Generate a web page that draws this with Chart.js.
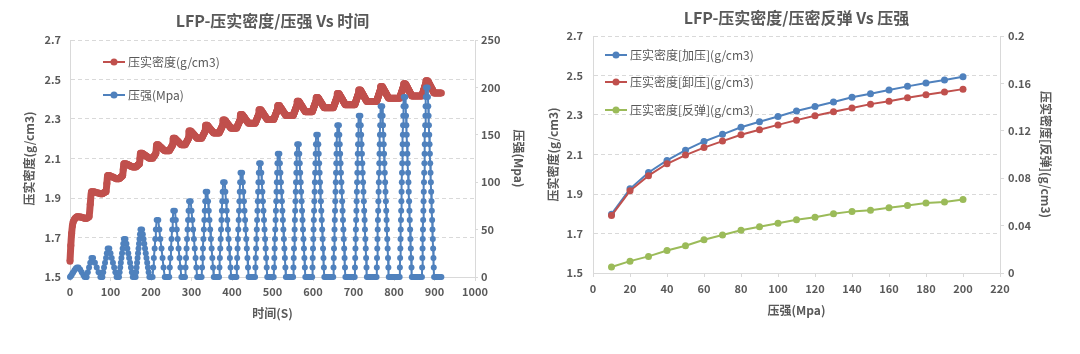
<!DOCTYPE html>
<html><head><meta charset="utf-8">
<script src="https://cdn.jsdelivr.net/npm/chart.js@4.4.1/dist/chart.umd.min.js"></script>
<style>
html,body{margin:0;padding:0;background:#fff;width:1080px;height:354px;overflow:hidden;}
#wrapL{position:absolute;left:0;top:0;width:540px;height:354px;}
#wrapR{position:absolute;left:540px;top:0;width:540px;height:354px;}
</style></head><body>
<div id="wrapL"><canvas id="cL" width="540" height="354"></canvas></div>
<div id="wrapR"><canvas id="cR" width="540" height="354"></canvas></div>
<script>
// ================= LEFT CHART DATA (time series, one line per press cycle) =================
const timeS = [
0,2,4,6,8,11,14,17,21,25,29,33,36,40,
41,44,47,50,53,57,61.5,66,70.5,75,78.5,
80,82,84,86.5,89,91,93,97,100,103,106,109,112,115,118.5,
121,122.5,124,125.5,127,128.5,130,131.5,133,137,139.3,141.5,143.8,146,148.3,150.5,152.8,155,158.5,
162,163.2,164.4,165.6,166.8,168,169.2,170.4,171.6,172.8,174,178,179.8,181.6,183.4,185.2,187,188.8,190.6,192.4,194.2,196,199,
204,205.5,207,209,210.5,212,214,218,220.5,223,226,228.5,231,234,236.5,239.5,242.5,
245,246.4,247.9,249.3,250.7,252.1,253.6,255,259,261.3,263.6,265.9,268.1,270.4,272.7,275,277.5,280,282,
284,285.3,286.5,287.8,289,290.3,291.5,292.8,294,298,300,302,304,306,308,310,312,314,316.5,319.5,322.5,
325,326.1,327.2,328.3,329.4,330.6,331.7,332.8,333.9,335,339,340.8,342.6,344.3,346.1,347.9,349.7,351.4,353.2,355,358,361.5,365,
368,369,370,371,372,373,374,375,376,377,378,382,383.6,385.2,386.8,388.4,390,391.6,393.2,394.8,396.4,398,401,404.5,408,
411,411.9,412.8,413.7,414.6,415.5,416.5,417.4,418.3,419.2,420.1,421,425,426.5,427.9,429.4,430.8,432.3,433.7,435.2,436.6,438.1,439.5,441,444,447,450,453.5,
457,457.8,458.7,459.5,460.3,461.2,462,462.8,463.7,464.5,465.3,466.2,467,471,472.3,473.7,475,476.3,477.7,479,480.3,481.7,483,484.3,485.7,487,490,493,496,499.5,
503,503.8,504.5,505.3,506.1,506.8,507.6,508.4,509.2,509.9,510.7,511.5,512.2,513,517,518.2,519.5,520.7,521.9,523.2,524.4,525.6,526.8,528.1,529.3,530.5,531.8,533,536,539,542,545,548,
551,551.7,552.4,553.1,553.9,554.6,555.3,556,556.7,557.4,558.1,558.9,559.6,560.3,561,565,566.1,567.3,568.4,569.6,570.7,571.9,573,574.1,575.3,576.4,577.6,578.7,579.9,581,584,587,590,593,595.5,
598,598.7,599.3,600,600.7,601.3,602,602.7,603.3,604,604.7,605.3,606,606.7,607.3,608,612,613.1,614.1,615.2,616.3,617.3,618.4,619.5,620.5,621.6,622.7,623.7,624.8,625.9,626.9,628,631,634,637,640,643,646.5,
650,650.6,651.3,651.9,652.5,653.1,653.8,654.4,655,655.6,656.3,656.9,657.5,658.1,658.8,659.4,660,664,665,666,667,668,669,670,671,672,673,674,675,676,677,678,679,680,683,686,689,692,695,698,700.5,
703,703.6,704.2,704.8,705.4,705.9,706.5,707.1,707.7,708.3,708.9,709.5,710.1,710.6,711.2,711.8,712.4,713,717,717.9,718.9,719.8,720.8,721.7,722.6,723.6,724.5,725.5,726.4,727.4,728.3,729.2,730.2,731.1,732.1,733,736,739,742,745,748,751,754,
757,757.6,758.1,758.7,759.2,759.8,760.3,760.9,761.4,762,762.6,763.1,763.7,764.2,764.8,765.3,765.9,766.4,767,771,771.9,772.8,773.7,774.6,775.4,776.3,777.2,778.1,779,779.9,780.8,781.7,782.6,783.4,784.3,785.2,786.1,787,790,793,796,799,802,805,808,811,
814,814.5,815.1,815.6,816.1,816.6,817.2,817.7,818.2,818.7,819.3,819.8,820.3,820.8,821.4,821.9,822.4,822.9,823.5,824,828,828.8,829.7,830.5,831.4,832.2,833.1,833.9,834.7,835.6,836.4,837.3,838.1,838.9,839.8,840.6,841.5,842.3,843.2,844,847,850,853,856,859,862,865.5,
869,869.5,870,870.5,871,871.5,872,872.5,873,873.5,874,874.5,875,875.5,876,876.5,877,877.5,878,878.5,879,883,883.8,884.6,885.4,886.2,887,887.8,888.6,889.4,890.2,891,891.8,892.6,893.4,894.2,895,895.8,896.6,897.4,898.2,899,902,905,908,911,914,917
];
const pressureMpa = [
0,1,2,4,5,7,9,10,10,8,5,2,0,0,
0,5,10,15,20,20,15,10,5,0,0,
0,5,10,15,20,25,30,30,25,20,15,10,5,0,0,
0,5,10,15,20,25,30,35,40,40,35,30,25,20,15,10,5,0,0,
0,5,10,15,20,25,30,35,40,45,50,50,45,40,35,30,25,20,15,10,5,0,0,
0,10,20,30,40,50,60,60,50,40,30,20,10,0,0,0,0,
0,10,20,30,40,50,60,70,70,60,50,40,30,20,10,0,0,0,0,
0,10,20,30,40,50,60,70,80,80,70,60,50,40,30,20,10,0,0,0,0,
0,10,20,30,40,50,60,70,80,90,90,80,70,60,50,40,30,20,10,0,0,0,0,
0,10,20,30,40,50,60,70,80,90,100,100,90,80,70,60,50,40,30,20,10,0,0,0,0,
0,10,20,30,40,50,60,70,80,90,100,110,110,100,90,80,70,60,50,40,30,20,10,0,0,0,0,0,
0,10,20,30,40,50,60,70,80,90,100,110,120,120,110,100,90,80,70,60,50,40,30,20,10,0,0,0,0,0,
0,10,20,30,40,50,60,70,80,90,100,110,120,130,130,120,110,100,90,80,70,60,50,40,30,20,10,0,0,0,0,0,0,
0,10,20,30,40,50,60,70,80,90,100,110,120,130,140,140,130,120,110,100,90,80,70,60,50,40,30,20,10,0,0,0,0,0,0,
0,10,20,30,40,50,60,70,80,90,100,110,120,130,140,150,150,140,130,120,110,100,90,80,70,60,50,40,30,20,10,0,0,0,0,0,0,0,
0,10,20,30,40,50,60,70,80,90,100,110,120,130,140,150,160,160,150,140,130,120,110,100,90,80,70,60,50,40,30,20,10,0,0,0,0,0,0,0,0,
0,10,20,30,40,50,60,70,80,90,100,110,120,130,140,150,160,170,170,160,150,140,130,120,110,100,90,80,70,60,50,40,30,20,10,0,0,0,0,0,0,0,0,
0,10,20,30,40,50,60,70,80,90,100,110,120,130,140,150,160,170,180,180,170,160,150,140,130,120,110,100,90,80,70,60,50,40,30,20,10,0,0,0,0,0,0,0,0,0,
0,10,20,30,40,50,60,70,80,90,100,110,120,130,140,150,160,170,180,190,190,180,170,160,150,140,130,120,110,100,90,80,70,60,50,40,30,20,10,0,0,0,0,0,0,0,0,
0,10,20,30,40,50,60,70,80,90,100,110,120,130,140,150,160,170,180,190,200,200,190,180,170,160,150,140,130,120,110,100,90,80,70,60,50,40,30,20,10,0,0,0,0,0,0,0
];
const densityG = [
1.580,1.660,1.720,1.760,1.780,1.792,1.800,1.805,1.805,1.804,1.802,1.800,1.798,1.798,
1.798,1.801,1.805,1.868,1.932,1.932,1.930,1.927,1.925,1.922,1.922,
1.922,1.925,1.927,1.930,1.932,1.973,2.014,2.014,2.011,2.008,2.006,2.003,2.000,1.997,1.997,
1.997,2.000,2.003,2.006,2.008,2.011,2.014,2.044,2.074,2.074,2.072,2.070,2.068,2.066,2.063,2.061,2.059,2.057,2.057,
2.057,2.059,2.061,2.063,2.066,2.068,2.070,2.072,2.074,2.100,2.126,2.126,2.124,2.121,2.119,2.116,2.114,2.111,2.109,2.106,2.104,2.101,2.101,
2.101,2.106,2.111,2.116,2.121,2.126,2.169,2.169,2.164,2.159,2.154,2.149,2.144,2.139,2.139,2.139,2.139,
2.139,2.144,2.149,2.154,2.159,2.164,2.169,2.203,2.203,2.198,2.193,2.188,2.184,2.179,2.174,2.169,2.169,2.169,2.169,
2.169,2.174,2.179,2.184,2.188,2.193,2.198,2.203,2.239,2.239,2.235,2.230,2.226,2.221,2.217,2.212,2.208,2.203,2.203,2.203,2.203,
2.203,2.208,2.212,2.217,2.221,2.226,2.230,2.235,2.239,2.268,2.268,2.264,2.259,2.255,2.251,2.246,2.242,2.238,2.233,2.229,2.229,2.229,2.229,
2.229,2.233,2.238,2.242,2.246,2.251,2.255,2.259,2.264,2.268,2.295,2.295,2.291,2.287,2.282,2.278,2.274,2.270,2.266,2.261,2.257,2.253,2.253,2.253,2.253,
2.253,2.257,2.261,2.266,2.270,2.274,2.278,2.282,2.287,2.291,2.295,2.323,2.323,2.319,2.315,2.311,2.307,2.303,2.298,2.294,2.290,2.286,2.282,2.278,2.278,2.278,2.278,2.278,
2.278,2.282,2.286,2.290,2.294,2.298,2.303,2.307,2.311,2.315,2.319,2.323,2.347,2.347,2.343,2.339,2.335,2.331,2.327,2.323,2.318,2.314,2.310,2.306,2.302,2.298,2.298,2.298,2.298,2.298,
2.298,2.302,2.306,2.310,2.314,2.318,2.323,2.327,2.331,2.335,2.339,2.343,2.347,2.368,2.368,2.364,2.360,2.356,2.353,2.349,2.345,2.341,2.337,2.333,2.330,2.326,2.322,2.318,2.318,2.318,2.318,2.318,2.318,
2.318,2.322,2.326,2.330,2.333,2.337,2.341,2.345,2.349,2.353,2.356,2.360,2.364,2.368,2.390,2.390,2.386,2.382,2.379,2.375,2.371,2.367,2.364,2.360,2.356,2.352,2.348,2.345,2.341,2.337,2.337,2.337,2.337,2.337,2.337,
2.337,2.341,2.345,2.348,2.352,2.356,2.360,2.364,2.367,2.371,2.375,2.379,2.382,2.386,2.390,2.409,2.409,2.406,2.402,2.399,2.395,2.392,2.388,2.385,2.381,2.378,2.374,2.371,2.367,2.364,2.360,2.357,2.357,2.357,2.357,2.357,2.357,2.357,
2.357,2.360,2.364,2.367,2.371,2.374,2.378,2.381,2.385,2.388,2.392,2.395,2.399,2.402,2.406,2.409,2.429,2.429,2.425,2.422,2.418,2.415,2.411,2.408,2.404,2.401,2.397,2.393,2.390,2.386,2.383,2.379,2.376,2.372,2.372,2.372,2.372,2.372,2.372,2.372,2.372,
2.372,2.376,2.379,2.383,2.386,2.390,2.393,2.397,2.401,2.404,2.408,2.411,2.415,2.418,2.422,2.425,2.429,2.447,2.447,2.444,2.440,2.437,2.433,2.430,2.427,2.423,2.420,2.416,2.413,2.409,2.406,2.403,2.399,2.396,2.392,2.389,2.389,2.389,2.389,2.389,2.389,2.389,2.389,
2.389,2.392,2.396,2.399,2.403,2.406,2.409,2.413,2.416,2.420,2.423,2.427,2.430,2.433,2.437,2.440,2.444,2.447,2.464,2.464,2.461,2.457,2.454,2.451,2.448,2.444,2.441,2.438,2.435,2.431,2.428,2.425,2.421,2.418,2.415,2.412,2.408,2.405,2.405,2.405,2.405,2.405,2.405,2.405,2.405,2.405,
2.405,2.408,2.412,2.415,2.418,2.421,2.425,2.428,2.431,2.435,2.438,2.441,2.444,2.448,2.451,2.454,2.457,2.461,2.464,2.479,2.479,2.476,2.472,2.469,2.466,2.463,2.459,2.456,2.453,2.450,2.446,2.443,2.440,2.437,2.433,2.430,2.427,2.424,2.420,2.417,2.417,2.417,2.417,2.417,2.417,2.417,2.417,
2.417,2.420,2.424,2.427,2.430,2.433,2.437,2.440,2.443,2.446,2.450,2.453,2.456,2.459,2.463,2.466,2.469,2.472,2.476,2.479,2.494,2.494,2.491,2.488,2.485,2.482,2.479,2.475,2.472,2.469,2.466,2.463,2.460,2.457,2.454,2.451,2.448,2.444,2.441,2.438,2.435,2.432,2.432,2.432,2.432,2.432,2.432,2.432
];
const leftXRange = [0, 1000, 100];
const leftYRange = [1.5, 2.7, 0.2];
const leftY1Range = [0, 250, 50];

// ================= RIGHT CHART DATA =================
const pressureSteps  = [10,20,30,40,50,60,70,80,90,100,110,120,130,140,150,160,170,180,190,200];
const densityLoad    = [1.798,1.926,2.009,2.070,2.122,2.166,2.202,2.238,2.266,2.292,2.320,2.343,2.366,2.390,2.408,2.427,2.445,2.462,2.477,2.494];
const densityUnload  = [1.791,1.916,1.993,2.053,2.097,2.135,2.168,2.200,2.225,2.250,2.274,2.296,2.316,2.335,2.355,2.370,2.387,2.403,2.416,2.431];
const densityRebound = [0.005,0.010,0.014,0.019,0.023,0.028,0.032,0.036,0.039,0.042,0.045,0.047,0.050,0.052,0.053,0.055,0.057,0.059,0.060,0.062];
const rightXRange = [0, 220, 20];
const rightYRange = [1.5, 2.7, 0.2];
const rightY2Range = [0, 0.2, 0.04];

// ================= STYLE =================
const FONT = "'Noto Sans CJK SC','Noto Sans',sans-serif";
const GRAY = '#595959', LINE = '#D9D9D9';
const BLUE = '#4F81BD', RED = '#C0504D', GREEN = '#9BBB59';
Chart.defaults.font.family = FONT;
Chart.defaults.color = GRAY;

const fmt = v => String(parseFloat(Number(v).toFixed(3)));
const tickFont = {size: 11, weight: 'bold'};
const titleFont = {size: 12, weight: 'bold'};

const lineLegend = {
  id: 'lineLegend',
  afterDraw(chart, args, o) {
    const ctx = chart.ctx;
    ctx.save();
    o.y.forEach((y, i) => {
      const ds = chart.data.datasets[i];
      ctx.strokeStyle = ds.borderColor; ctx.lineWidth = 2;
      ctx.beginPath(); ctx.moveTo(o.x, y); ctx.lineTo(o.x + o.len, y); ctx.stroke();
      ctx.fillStyle = ds.borderColor;
      ctx.beginPath(); ctx.arc(o.x + o.len / 2, y, 3.5, 0, Math.PI * 2); ctx.fill();
      ctx.fillStyle = GRAY; ctx.font = '12px ' + FONT;
      ctx.textBaseline = 'middle'; ctx.textAlign = 'left';
      ctx.fillText(ds.label, o.x + o.len + 3, y + 0.5);
    });
    ctx.restore();
  }
};

function series(xs, ys) {
  const n = Math.min(xs.length, ys.length);
  const out = [];
  for (let i = 0; i < n; i++) out.push({x: xs[i], y: ys[i]});
  return out;
}
function ds(label, data, color, axis, r, order, lw) {
  return {label, data, yAxisID: axis, borderColor: color, backgroundColor: color,
    pointBackgroundColor: color, pointBorderColor: color, pointBorderWidth: 0,
    pointRadius: r, pointHoverRadius: r, borderWidth: lw || 2, tension: 0, order, clip: false};
}

// ================= LEFT CHART =================
const redDs = ds('压实密度(g/cm3)', series(timeS, densityG), RED, 'y', 3.5, 1, 7);
redDs.cubicInterpolationMode = 'monotone';
new Chart(document.getElementById('cL'), {
  type: 'line',
  data: {datasets: [
    redDs,
    ds('压强(Mpa)', series(timeS, pressureMpa), BLUE, 'y1', 3, 0, 2)
  ]},
  options: {
    responsive: false, animation: false, devicePixelRatio: 1,
    events: [],
    layout: {padding: 0},
    plugins: {
      legend: {display: false}, tooltip: {enabled: false},
      title: {display: true, text: 'LFP-压实密度/压强 Vs 时间', color: GRAY, fullSize: false,
        font: {size: 16, weight: 'bold'}, padding: {top: 11, bottom: 9.8}},
      lineLegend: {x: 103, len: 22, y: [62, 95]}
    },
    scales: {
      x: {type: 'linear', min: leftXRange[0], max: leftXRange[1],
        ticks: {stepSize: leftXRange[2], font: tickFont, color: GRAY, padding: 4, maxRotation: 0, autoSkip: false, callback: fmt},
        grid: {drawOnChartArea: false, drawTicks: true, tickLength: 4, color: LINE},
        border: {color: LINE},
        title: {display: true, text: '时间(S)', color: GRAY, font: titleFont, padding: {top: 0, bottom: 33}},
        afterFit(s) { s.height = 77; }},
      y: {position: 'left', min: leftYRange[0], max: leftYRange[1],
        ticks: {stepSize: leftYRange[2], font: tickFont, color: GRAY, padding: 9, callback: fmt},
        grid: {color: LINE, drawTicks: false},
        border: {color: LINE, dash: [4, 3]},
        title: {display: true, text: '压实密度(g/cm3)', color: GRAY, font: titleFont, padding: {top: 22, bottom: 0}},
        afterFit(s) { s.width = 70; }},
      y1: {position: 'right', min: leftY1Range[0], max: leftY1Range[1],
        ticks: {stepSize: leftY1Range[2], font: tickFont, color: GRAY, padding: 3, callback: fmt},
        grid: {drawOnChartArea: false, drawTicks: true, tickLength: 3, color: LINE},
        border: {color: LINE},
        title: {display: true, text: '压强(Mpa)', color: GRAY, font: titleFont, padding: {top: 14, bottom: 0}},
        afterFit(s) { s.width = 65; }}
    }
  },
  plugins: [lineLegend]
});

// ================= RIGHT CHART =================
new Chart(document.getElementById('cR'), {
  type: 'line',
  data: {datasets: [
    ds('压实密度[加压](g/cm3)', series(pressureSteps, densityLoad), BLUE, 'y', 3.5, 1),
    ds('压实密度[卸压](g/cm3)', series(pressureSteps, densityUnload), RED, 'y', 3.5, 0),
    ds('压实密度[反弹](g/cm3)', series(pressureSteps, densityRebound), GREEN, 'y2', 3.5, 2)
  ]},
  options: {
    responsive: false, animation: false, devicePixelRatio: 1,
    events: [],
    layout: {padding: 0},
    plugins: {
      legend: {display: false}, tooltip: {enabled: false},
      title: {display: true, text: 'LFP-压实密度/压密反弹 Vs 压强', color: GRAY, fullSize: false,
        font: {size: 16, weight: 'bold'}, padding: {top: 8.5, bottom: 8.3}},
      lineLegend: {x: 65, len: 22, y: [55, 82, 110]}
    },
    scales: {
      x: {type: 'linear', min: rightXRange[0], max: rightXRange[1],
        ticks: {stepSize: rightXRange[2], font: tickFont, color: GRAY, padding: 5, maxRotation: 0, autoSkip: false, callback: fmt},
        grid: {drawOnChartArea: false, drawTicks: true, tickLength: 4, color: LINE},
        border: {color: LINE},
        title: {display: true, text: '压强(Mpa)', color: GRAY, font: titleFont, padding: {top: 0, bottom: 36}},
        afterFit(s) { s.height = 81; }},
      y: {position: 'left', min: rightYRange[0], max: rightYRange[1],
        ticks: {stepSize: rightYRange[2], font: tickFont, color: GRAY, padding: 10, callback: fmt},
        grid: {color: LINE, drawTicks: false},
        border: {color: LINE, dash: [4, 3]},
        title: {display: true, text: '压实密度(g/cm3)', color: GRAY, font: titleFont, padding: {top: 6, bottom: 0}},
        afterFit(s) { s.width = 53; }},
      y2: {position: 'right', min: rightY2Range[0], max: rightY2Range[1],
        ticks: {stepSize: rightY2Range[2], font: tickFont, color: GRAY, padding: 4, callback: fmt},
        grid: {drawOnChartArea: false, drawTicks: true, tickLength: 4, color: LINE},
        border: {color: LINE},
        title: {display: true, text: '压实密度[反弹](g/cm3)', color: GRAY, font: titleFont, padding: {top: 27, bottom: 0}},
        afterFit(s) { s.width = 80; }}
    }
  },
  plugins: [lineLegend]
});
</script>
</body></html>
